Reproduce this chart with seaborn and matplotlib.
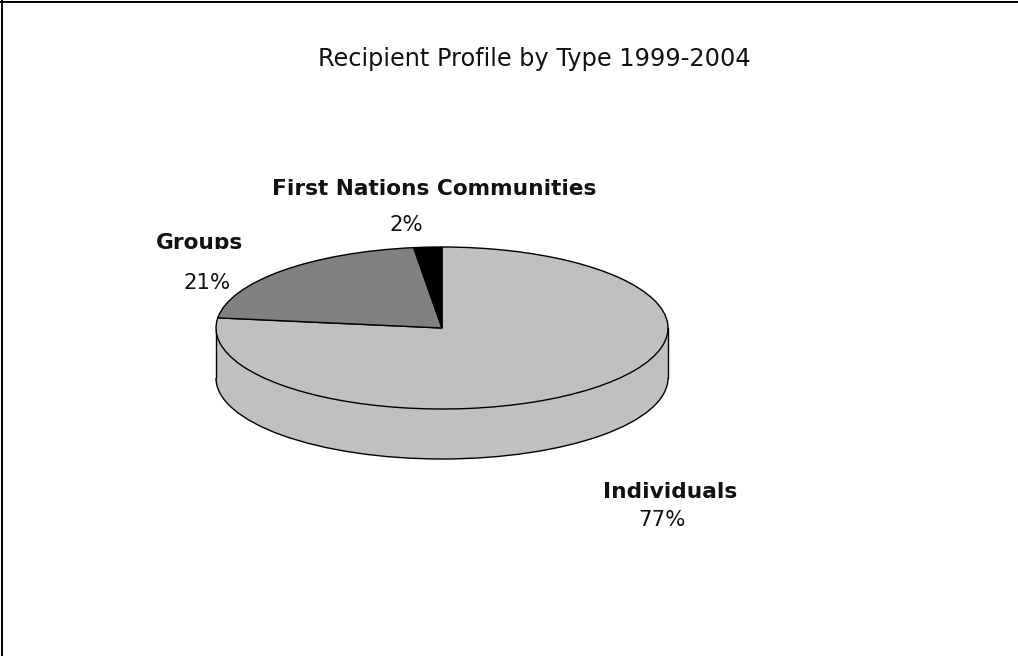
import matplotlib
matplotlib.use("Agg")
import matplotlib.pyplot as plt
from matplotlib.patches import Rectangle, Arc
import seaborn as sns

categories = ["Individuals", "Groups", "First Nations Communities"]
shares = [77, 21, 2]
share_labels = ["77%", "21%", "2%"]
title = "Recipient Profile by Type 1999-2004"
slice_colors = ["#C0C0C0", "#808080", "#000000"]

sns.set_theme(style="white")
plt.rcParams["font.family"] = ["DejaVu Sans"]

W, H = 1018, 656
fig = plt.figure(figsize=(W / 100, H / 100), dpi=100, facecolor="white")

cx, cy, rx, ry, depth = 442, 328, 226, 81, 50
ax = fig.add_axes([(cx - rx) / W, 1 - (cy + ry) / H, 2 * rx / W, 2 * ry / H])
lw = 1.0
d = depth / ry

# side wall, then top face
ax.pie([sum(shares)], colors=[slice_colors[0]], center=(0, -d), radius=1,
       wedgeprops={"edgecolor": "none", "zorder": 1}, frame=False)
ax.add_patch(Rectangle((-1, -d), 2, d, facecolor=slice_colors[0], edgecolor="none", zorder=1.5))
ax.add_patch(Arc((0, -d), 2, 2, theta1=180, theta2=360, color="black", lw=lw, zorder=1.6))
ax.plot([-1, -1], [-d, 0], color="black", lw=lw, zorder=1.6)
ax.plot([1, 1], [-d, 0], color="black", lw=lw, zorder=1.6)
ax.pie(shares, colors=slice_colors, startangle=90, counterclock=False, radius=1,
       wedgeprops={"edgecolor": "black", "linewidth": lw, "zorder": 2}, frame=False)
ax.set_aspect("auto")
ax.set_xlim(-1, 1)
ax.set_ylim(-1, 1)
ax.axis("off")
for a in ax.get_children():
    a.set_clip_on(False)


def put(x, y, s, **kw):
    return fig.text(x / W, 1 - y / H, s, ha="center", va="center", color="#111111", **kw)


fs_title, fs_bold, fs_pct = 17.3, 15.6, 15.3
put(534, 59, title, fontsize=fs_title)
put(434.5, 189, categories[2], fontsize=fs_bold, fontweight="bold")
put(406, 225, share_labels[2], fontsize=fs_pct)
g = put(199.5, 243, categories[1], fontsize=fs_bold, fontweight="bold")
g.set_clip_path(Rectangle((0, H - 249), W, 249, transform=None))
put(207, 283, share_labels[1], fontsize=fs_pct)
put(670, 492, categories[0], fontsize=fs_bold, fontweight="bold")
put(662, 520, share_labels[0], fontsize=fs_pct)

# chart-area frame, open at the bottom
for xs, ys in [([1.5, 1.5], [0, H]), ([0, W], [1.5, 1.5])]:
    fig.add_artist(plt.Line2D([x / W for x in xs], [1 - y / H for y in ys], color="black", lw=1.4))

fig.savefig("out.png", dpi=100, facecolor="white")
